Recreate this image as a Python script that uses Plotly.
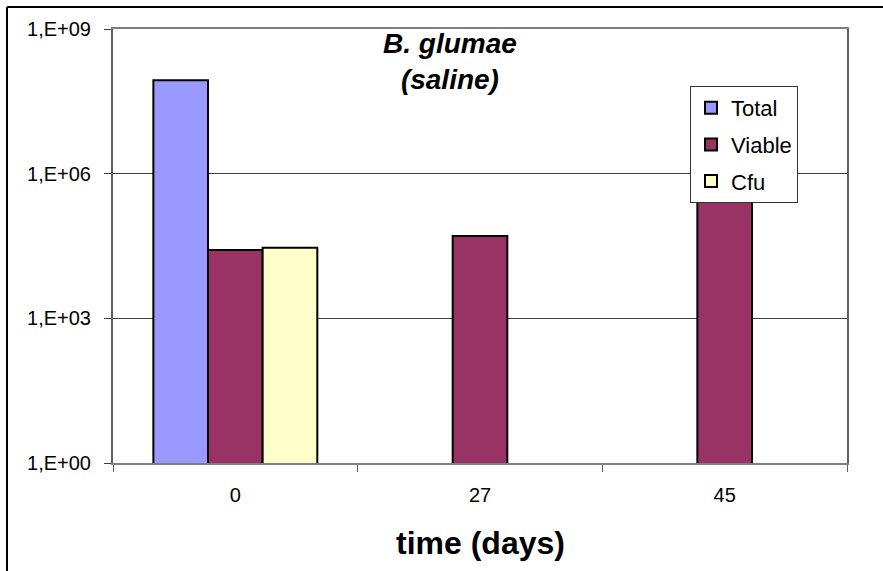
import plotly.graph_objects as go

# ---- data ----
categories = ["0", "27", "45"]
total_vals = [8.7e7, None, None]
viable_vals = [2.6e4, 5.1e4, 5.0e5]
cfu_vals = [2.9e4, None, None]
y_tick_vals = [1, 1e3, 1e6, 1e9]
y_tick_text = ["1,E+00", "1,E+03", "1,E+06", "1,E+09"]
series = [("Total", total_vals, "#9999FF"),
          ("Viable", viable_vals, "#993366"),
          ("Cfu", cfu_vals, "#FFFFCC")]

FONT = "Liberation Sans, Arial, sans-serif"

fig = go.Figure()
for name, vals, col in series:
    fig.add_trace(go.Bar(
        x=categories, y=vals, name=name, legendgroup=name,
        marker=dict(color=col, line=dict(color="black", width=2)),
    ))

W, H = 883, 571
L, R, T, B = 113, 36, 29, 108
pw, ph = W - L - R, H - T - B

def px2x(px):
    return (px - L) / pw

def py2y(py):
    return (H - B - py) / ph

fig.update_layout(
    width=W, height=H,
    margin=dict(l=L, r=R, t=T, b=B, pad=0),
    paper_bgcolor="white", plot_bgcolor="white",
    barmode="group", bargap=0.33, bargroupgap=0,
    font=dict(family=FONT, color="black", size=20),
    showlegend=True,
    legend=dict(
        x=px2x(690), y=py2y(86), xanchor="left", yanchor="top",
        bgcolor="white", bordercolor="#333333", borderwidth=1,
        font=dict(size=22, family=FONT, color="black"),
        tracegroupgap=5, itemwidth=30,
    ),
    xaxis=dict(
        type="category", tickson="boundaries", ticks="outside", ticklen=7,
        tickcolor="#606060", tickwidth=1,
        showline=True, linecolor="#808080", linewidth=2, mirror=True,
        showgrid=False, tickfont=dict(size=20), ticklabelstandoff=13,
    ),
    yaxis=dict(
        type="log", range=[0, 9], tickvals=y_tick_vals, ticktext=y_tick_text,
        ticks="outside", ticklen=7, tickcolor="#404040", tickwidth=1,
        showline=True, linecolor="#606060", linewidth=2, mirror=True,
        showgrid=True, gridcolor="#404040", gridwidth=1,
        tickfont=dict(size=20), ticklabelstandoff=9, zeroline=False,
    ),
    annotations=[
        dict(text="<b><i>B. glumae<br>(saline)</i></b>", xref="paper", yref="paper",
             x=px2x(450), y=py2y(61), xanchor="center", yanchor="middle",
             showarrow=False, font=dict(size=28, family=FONT, color="black")),
        dict(text="<b>time (days)</b>", xref="paper", yref="paper",
             x=px2x(480), y=py2y(543), xanchor="center", yanchor="middle",
             showarrow=False, font=dict(size=32, family=FONT, color="black")),
    ],
    shapes=[
        dict(type="line", xref="paper", yref="paper",
             x0=px2x(7), x1=px2x(900), y0=py2y(7), y1=py2y(7),
             line=dict(color="black", width=2)),
        dict(type="line", xref="paper", yref="paper",
             x0=px2x(7), x1=px2x(7), y0=py2y(7), y1=py2y(600),
             line=dict(color="black", width=2)),
    ],
)

fig.write_html("out.html", config={"displayModeBar": False},
               post_script="document.body.style.margin='0';")
